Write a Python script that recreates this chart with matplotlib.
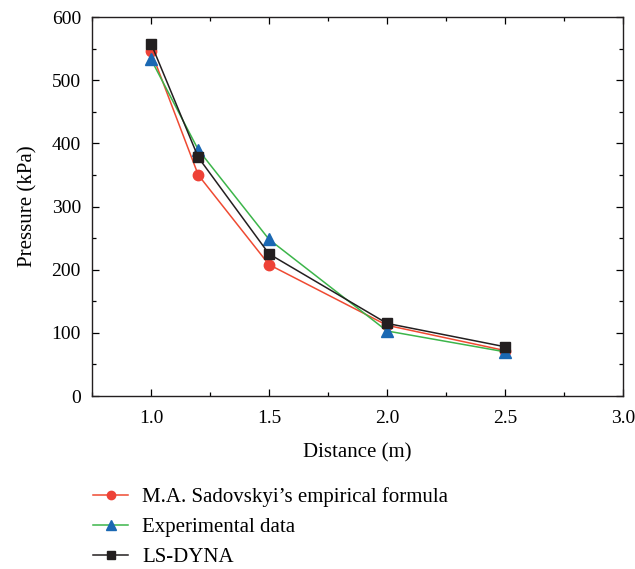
import matplotlib
matplotlib.use("Agg")
import matplotlib.pyplot as plt
from matplotlib.ticker import MultipleLocator

plt.rcParams['font.family'] = ['Liberation Serif', 'DejaVu Serif']

# distances (m)
distance = [1.0, 1.2, 1.5, 2.0, 2.5]
# pressures (kPa)
sadovskyi = [546, 350, 208, 112, 72]
experimental = [533, 390, 248, 103, 70]
lsdyna = [558, 378, 225, 115, 78]

labels = ["M.A. Sadovskyi\u2019s empirical formula", "Experimental data", "LS-DYNA"]

fig = plt.figure(figsize=(6.35, 5.69), dpi=100)
ax = fig.add_axes([0.145, 0.304, 0.836, 0.666])

ax.plot(distance, sadovskyi, color="#ef4a32", lw=1.1, marker="o", ms=7.5,
        mfc="#ee4237", mec="#ee4237", label=labels[0], zorder=3)
ax.plot(distance, experimental, color="#3cb54a", lw=1.1, marker="^", ms=8.5,
        mfc="#1a68b3", mec="#1a68b3", label=labels[1], zorder=3)
ax.plot(distance, lsdyna, color="#231f20", lw=1.1, marker="s", ms=6.5,
        mfc="#231f20", mec="#231f20", label=labels[2], zorder=4)

ax.set_xlim(0.75, 3.0)
ax.set_ylim(0, 600)
ax.xaxis.set_minor_locator(MultipleLocator(0.25))
ax.yaxis.set_major_locator(MultipleLocator(100))
ax.yaxis.set_minor_locator(MultipleLocator(50))
ax.set_xticks([1.0, 1.5, 2.0, 2.5, 3.0])
ax.tick_params(which="both", direction="in", top=True, right=True, labelsize=14, width=0.9)
ax.tick_params(which="major", length=5)
ax.tick_params(which="minor", length=3)
ax.tick_params(axis="x", pad=10)
ax.tick_params(axis="y", pad=8)
for s in ax.spines.values():
    s.set_linewidth(1.0)
    s.set_color("#231f20")

ax.set_xlabel("Distance (m)", fontsize=15, labelpad=12)
ax.set_ylabel("Pressure (kPa)", fontsize=15, labelpad=10)

fig.legend(loc="upper left", bbox_to_anchor=(0.117, 0.177), frameon=False,
           fontsize=15, handlelength=1.7, handletextpad=0.67, labelspacing=0.5,
           markerscale=0.8)

fig.savefig("out.png", dpi=100)
